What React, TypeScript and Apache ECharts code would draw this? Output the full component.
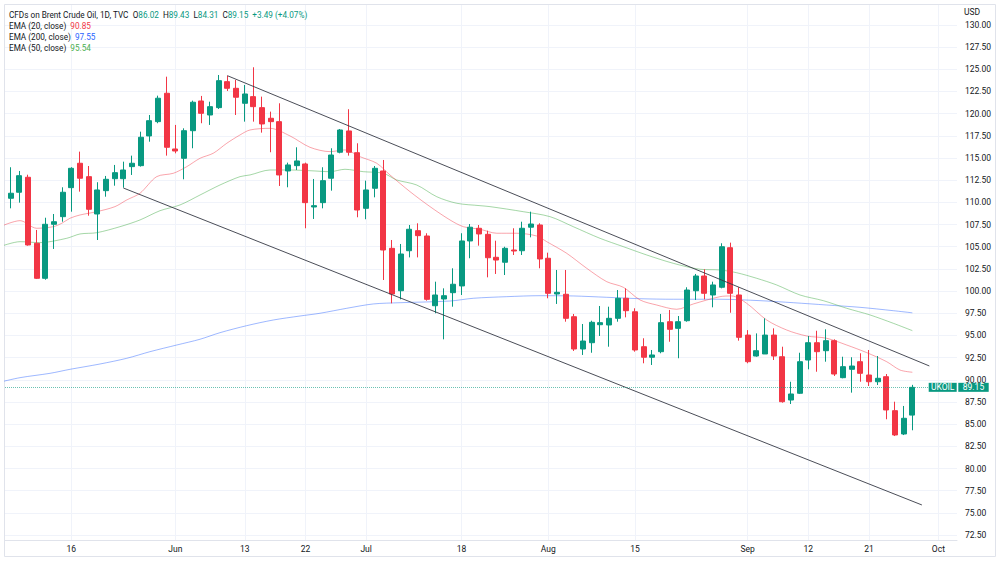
import React, { useEffect, useRef } from 'react';
import * as echarts from 'echarts';

// x positions are trading-day indices (0 = May 4, 2022)
const tickIdx = [8, 20, 28, 35, 42, 53, 63, 73, 86, 93, 100, 108];
const tickLabels = ['16', 'Jun', '13', '22', 'Jul', '18', 'Aug', '15', 'Sep', '12', '21', 'Oct'];
const priceTicks = [72.5, 75, 77.5, 80, 82.5, 85, 87.5, 90, 92.5, 95, 97.5, 100, 102.5, 105, 107.5, 110, 112.5, 115, 117.5, 120, 122.5, 125, 127.5, 130];

const opens = [105.76, 110.46, 111.14, 112.83, 105.39, 101.44, 107.53, 108.39, 111.66, 114.41, 112.9, 108.69, 111.32, 112.67, 112.67, 114.03, 114.14, 117.49, 119.1, 122.3, 116.02, 114.97, 118.08, 121.43, 119.85, 120.68, 123.61, 122.86, 121.17, 121.92, 120.68, 119.48, 119.1, 113.54, 114.14, 114.33, 109.48, 109.97, 112.72, 115.65, 118.05, 115.6, 109.33, 111.59, 113.54, 104.82, 100.04, 104.55, 106.81, 106.21, 98.35, 99.11, 99.82, 100.58, 105.65, 107.08, 106.4, 103.81, 103.25, 104.63, 104.55, 107.2, 107.45, 103.7, 99.67, 99.64, 97.11, 93.47, 94.18, 96.21, 96.18, 96.93, 99.19, 97.67, 93.73, 92.54, 93.17, 96.55, 95.8, 96.66, 100.04, 101.7, 99.56, 100.43, 104.89, 99.56, 95.04, 92.68, 92.91, 95.04, 92.6, 87.72, 88.48, 92.23, 94.18, 93.28, 94.41, 90.24, 91.18, 92.04, 90.54, 89.78, 90.35, 86.52, 83.89, 86.02];
const closes = [110.08, 111.03, 113.01, 105.2, 101.44, 107.53, 107.82, 111.14, 113.84, 112.72, 109.22, 111.4, 112.6, 113.35, 113.65, 114.41, 117.34, 119.21, 121.74, 116.21, 115.79, 118.08, 121.29, 120.04, 120.79, 123.72, 122.86, 121.85, 122.22, 120.79, 118.84, 119.1, 113.09, 114.22, 114.67, 109.97, 109.63, 112.45, 115.34, 118.16, 115.65, 109.14, 111.4, 113.84, 104.63, 99.67, 104.18, 106.97, 106.25, 99.07, 99.56, 99.48, 100.77, 105.65, 107.2, 106.44, 103.76, 103.5, 104.82, 104.52, 107.08, 107.56, 103.62, 99.75, 99.86, 96.93, 93.47, 94.37, 96.48, 96.44, 96.93, 99.19, 97.79, 93.36, 92.54, 92.8, 96.44, 95.69, 96.55, 100.12, 101.7, 99.75, 100.69, 105.0, 99.75, 94.79, 92.04, 93.28, 95.04, 92.68, 87.53, 88.4, 92.04, 94.18, 93.17, 94.41, 90.65, 91.48, 91.55, 90.73, 89.78, 90.17, 86.6, 83.78, 85.66, 89.15];
const lows = [104.3, 109.33, 109.97, 105.12, 101.36, 101.28, 104.75, 107.82, 108.95, 111.21, 108.5, 105.76, 110.64, 111.88, 111.66, 113.09, 114.03, 116.84, 118.92, 115.27, 115.53, 112.6, 116.1, 118.92, 118.73, 120.53, 122.56, 119.85, 119.1, 119.1, 117.86, 115.65, 111.85, 111.7, 113.65, 107.08, 108.13, 109.33, 111.32, 115.53, 115.27, 108.32, 108.1, 110.57, 101.25, 98.62, 99.07, 103.8, 103.8, 98.92, 97.5, 94.56, 98.24, 99.56, 103.7, 105.12, 101.55, 101.93, 101.81, 104.07, 104.07, 106.06, 102.57, 99.19, 98.55, 96.55, 93.25, 92.8, 93.05, 94.94, 93.73, 96.55, 97.04, 93.17, 91.86, 91.67, 92.99, 94.29, 92.43, 96.55, 99.0, 99.07, 98.17, 100.31, 97.56, 94.41, 91.86, 92.6, 92.91, 92.23, 87.42, 87.27, 88.4, 91.18, 90.91, 92.04, 90.43, 90.17, 88.55, 89.78, 89.3, 89.41, 85.55, 83.66, 83.77, 84.31];
const highs = [110.4, 113.96, 113.54, 113.12, 106.89, 108.27, 108.69, 111.7, 113.96, 115.72, 114.1, 112.27, 112.98, 114.22, 114.59, 115.27, 117.97, 119.85, 122.03, 124.17, 118.73, 118.35, 121.47, 122.0, 121.35, 124.36, 124.28, 123.8, 123.24, 125.23, 121.92, 120.23, 121.17, 114.48, 116.21, 114.48, 112.64, 113.96, 116.1, 118.27, 120.5, 116.66, 112.45, 114.1, 114.78, 105.76, 105.31, 107.45, 107.64, 106.52, 101.06, 100.31, 102.57, 106.52, 107.56, 107.45, 106.81, 105.68, 105.0, 107.08, 107.82, 108.95, 107.64, 104.33, 102.38, 102.38, 97.42, 96.29, 96.66, 98.32, 98.24, 100.12, 100.31, 98.06, 94.68, 93.36, 97.42, 97.87, 97.19, 100.43, 101.93, 102.46, 101.06, 105.39, 105.46, 100.43, 95.6, 95.23, 96.93, 95.8, 93.73, 89.78, 93.05, 94.94, 95.53, 95.69, 94.56, 92.6, 92.54, 92.99, 93.36, 92.68, 90.65, 87.53, 87.05, 89.43];

const ema20 = [[-0.23, 107.26], [2.08, 107.94], [4.0, 107.08], [5.92, 107.26], [6.89, 107.64], [7.84, 108.21], [9.0, 108.58], [10.92, 108.95], [13.03, 109.52], [14.38, 110.27], [15.92, 111.03], [17.84, 112.9], [19.76, 113.28], [21.3, 114.02], [22.84, 114.97], [24.37, 115.54], [25.92, 116.66], [27.45, 117.6], [28.6, 118.16], [30.91, 118.35], [33.22, 117.49], [35.52, 116.21], [37.83, 115.72], [39.56, 115.91], [41.29, 115.15], [43.22, 114.41], [44.75, 113.09], [47.06, 111.21], [49.37, 109.52], [51.67, 108.02], [53.21, 107.26], [55.13, 106.97], [57.06, 106.52], [59.37, 106.52], [61.67, 106.21], [62.83, 105.57], [65.13, 104.26], [67.44, 102.57], [69.75, 101.06], [71.66, 100.43], [73.59, 99.0], [75.51, 98.43], [77.82, 97.95], [79.74, 98.55], [82.81, 99.37], [84.16, 99.45], [85.89, 98.62], [88.2, 96.74], [90.51, 95.61], [92.81, 94.94], [95.12, 94.68], [97.43, 93.92], [99.74, 93.06], [102.04, 92.04], [103.58, 91.1], [105, 90.85]];
const ema50 = [[-0.23, 105.01], [2.08, 105.57], [4.38, 105.46], [7.46, 105.95], [9.0, 106.44], [10.92, 106.58], [13.61, 107.26], [15.92, 108.02], [18.22, 109.06], [20.53, 109.71], [22.84, 110.83], [25.14, 111.96], [27.45, 112.9], [28.6, 113.09], [30.91, 113.65], [33.22, 113.65], [35.52, 113.57], [37.83, 113.46], [39.56, 113.73], [41.67, 113.46], [43.98, 113.28], [45.52, 112.53], [47.83, 111.96], [50.14, 110.64], [52.45, 109.9], [55.13, 109.63], [56.29, 109.52], [60.13, 108.95], [63.21, 108.39], [65.89, 107.26], [68.97, 105.95], [71.66, 105.01], [74.36, 104.07], [77.43, 103.13], [80.51, 102.46], [82.81, 102.38], [84.74, 102.07], [87.05, 101.44], [89.35, 100.69], [92.04, 99.56], [94.73, 98.92], [97.43, 98.06], [100.12, 97.31], [102.8, 96.37], [105, 95.54]];
const ema200 = [[-0.3, 89.72], [2.08, 90.24], [5.54, 90.73], [7.84, 91.18], [11.3, 91.78], [14.38, 92.42], [17.07, 93.17], [20.15, 93.92], [22.84, 94.57], [25.14, 95.31], [28.22, 96.1], [31.29, 96.74], [34.37, 97.19], [36.68, 97.5], [39.76, 98.06], [42.83, 98.55], [45.91, 98.69], [51.67, 98.88], [54.36, 99.19], [58.21, 99.37], [62.06, 99.48], [65.89, 99.45], [69.75, 99.3], [73.59, 99.14], [77.43, 99.08], [82.81, 99.08], [87.43, 98.92], [91.27, 98.69], [95.12, 98.43], [98.96, 98.17], [102.8, 97.79], [105, 97.55]];

const upperTrend = [[26, 124.28], [106.96, 91.56]];
const lowerTrend = [[14, 111.62], [106.1, 75.89]];

const UP = '#089981';
const DOWN = '#F23645';
const TEXT = '#131722';
const FONT = 'Roboto, "Noto Sans", sans-serif';

export default function App() {
  const ref = useRef<HTMLDivElement>(null);
  useEffect(() => {
    if (!ref.current) return;
    const chart = echarts.init(ref.current, undefined, { renderer: 'svg' });
    const n = closes.length;
    const candles = closes.map((c, i) => [i, opens[i], c, lows[i], highs[i]]);
    const last = n - 1;
    const chg = closes[last] - closes[last - 1];
    const pct = (chg / closes[last - 1]) * 100;
    const sign = chg >= 0 ? '+' : '';
    const lastE20 = ema20[ema20.length - 1][1];
    const lastE50 = ema50[ema50.length - 1][1];
    const lastE200 = ema200[ema200.length - 1][1];
    const header =
      `{t|CFDs on Brent Crude Oil, 1D, TVC}  {t|O}{g|${opens[last].toFixed(2)}}  {t|H}{g|${highs[last].toFixed(2)}}  {t|L}{g|${lows[last].toFixed(2)}}  {t|C}{g|${closes[last].toFixed(2)}}  {g|${sign}${chg.toFixed(2)} (${sign}${pct.toFixed(2)}%)}\n` +
      `{t|EMA (20, close)}  {r|${lastE20.toFixed(2)}}\n` +
      `{t|EMA (200, close)}  {b|${lastE200.toFixed(2)}}\n` +
      `{t|EMA (50, close)}  {gr|${lastE50.toFixed(2)}}`;
    const fs = 8.2;
    const lh = 11;
    const option: any = {
      animation: false,
      backgroundColor: '#ffffff',
      textStyle: { fontFamily: FONT },
      title: [
        {
          text: header,
          left: 9,
          top: 9,
          padding: 0,
          textStyle: {
            fontSize: fs,
            lineHeight: lh,
            fontWeight: 'normal',
            fontFamily: FONT,
            rich: {
              t: { color: TEXT, fontSize: fs, lineHeight: lh, fontFamily: FONT },
              g: { color: UP, fontSize: fs, lineHeight: lh, fontFamily: FONT },
              r: { color: DOWN, fontSize: fs, lineHeight: lh, fontFamily: FONT },
              b: { color: '#2962FF', fontSize: fs, lineHeight: lh, fontFamily: FONT },
              gr: { color: '#4CAF50', fontSize: fs, lineHeight: lh, fontFamily: FONT },
            },
          },
        },
        {
          text: 'USD',
          left: 964,
          top: 7,
          padding: 0,
          textStyle: { fontSize: 8.5, color: TEXT, fontWeight: 'normal', fontFamily: FONT },
        },
      ],
      graphic: [
        {
          type: 'rect',
          silent: true,
          z: -10,
          shape: { x: 4.5, y: 4.5, width: 991, height: 552 },
          style: { fill: 'none', stroke: '#e0e3eb', lineWidth: 1 },
        },
      ],
      grid: { left: 5, right: 43, top: 5, bottom: 21, containLabel: false },
      xAxis: {
        type: 'value',
        min: 0.346,
        max: 110.15,
        axisLine: { show: true, onZero: false, lineStyle: { color: '#e0e3eb' } },
        axisTick: { show: false, customValues: tickIdx },
        axisLabel: {
          customValues: tickIdx,
          formatter: (v: number) => {
            const k = tickIdx.indexOf(Math.round(v));
            return k >= 0 ? tickLabels[k] : '';
          },
          color: TEXT,
          fontSize: 8.5,
          margin: 4,
          fontFamily: FONT,
        },
        splitLine: { show: true, lineStyle: { color: '#f0f3fa', width: 1 } },
      },
      yAxis: {
        type: 'value',
        position: 'right',
        min: 71.94,
        max: 132.25,
        axisLine: { show: false },
        axisTick: { show: false, customValues: priceTicks },
        axisLabel: {
          customValues: priceTicks,
          formatter: (v: number) => v.toFixed(2),
          color: TEXT,
          fontSize: 8.5,
          margin: 8,
          fontFamily: FONT,
        },
        splitLine: { show: true, lineStyle: { color: '#f0f3fa', width: 1 } },
      },
      series: [
        {
          name: 'EMA 200',
          type: 'line',
          data: ema200,
          showSymbol: false,
          smooth: 0.3,
          clip: true,
          lineStyle: { color: '#2962FF', width: 1, opacity: 0.45 },
          silent: true,
          z: 2,
        },
        {
          name: 'EMA 50',
          type: 'line',
          data: ema50,
          showSymbol: false,
          smooth: 0.3,
          clip: true,
          lineStyle: { color: '#4CAF50', width: 1, opacity: 0.5 },
          silent: true,
          z: 2,
        },
        {
          name: 'EMA 20',
          type: 'line',
          data: ema20,
          showSymbol: false,
          smooth: 0.3,
          clip: true,
          lineStyle: { color: DOWN, width: 1, opacity: 0.45 },
          silent: true,
          z: 2,
        },
        {
          name: 'UKOIL',
          type: 'candlestick',
          data: candles,
          barWidth: 5.5,
          clip: true,
          z: 3,
          itemStyle: {
            color: UP,
            color0: DOWN,
            borderColor: UP,
            borderColor0: DOWN,
            borderWidth: 1,
          },
          markLine: {
            silent: true,
            symbol: ['none', 'none'],
            animation: false,
            lineStyle: { color: 'rgba(8,153,129,0.6)', type: 'dotted', width: 1 },
            label: {
              show: true,
              position: 'end',
              distance: [-28.3, 0],
              opacity: 1,
              formatter: () => `{u|UKOIL}{s| }{p|${closes[last].toFixed(2)}}`,
              rich: {
                u: { backgroundColor: UP, color: '#ffffff', fontSize: 8.5, lineHeight: 11, padding: [0, 3, 0, 3], width: 22, align: 'center', fontFamily: FONT },
                s: { width: 1.6, fontSize: 8.5 },
                p: { backgroundColor: UP, color: '#ffffff', fontSize: 8.5, lineHeight: 11, padding: [0, 3, 0, 3], width: 24.4, align: 'center', fontFamily: FONT },
              },
            },
            data: [{ yAxis: closes[last] }],
          },
        },
        {
          name: 'Upper channel',
          type: 'line',
          data: upperTrend,
          showSymbol: false,
          clip: true,
          silent: true,
          lineStyle: { color: '#363a45', width: 1, opacity: 0.9 },
          z: 4,
        },
        {
          name: 'Lower channel',
          type: 'line',
          data: lowerTrend,
          showSymbol: false,
          clip: true,
          silent: true,
          lineStyle: { color: '#363a45', width: 1, opacity: 0.9 },
          z: 4,
        },
      ],
    };
    chart.setOption(option);
    return () => chart.dispose();
  }, []);
  return (
    <div
      ref={ref}
      style={{ position: 'fixed', left: 0, top: 0, width: 1000, height: 561, background: '#fff' }}
    />
  );
}
